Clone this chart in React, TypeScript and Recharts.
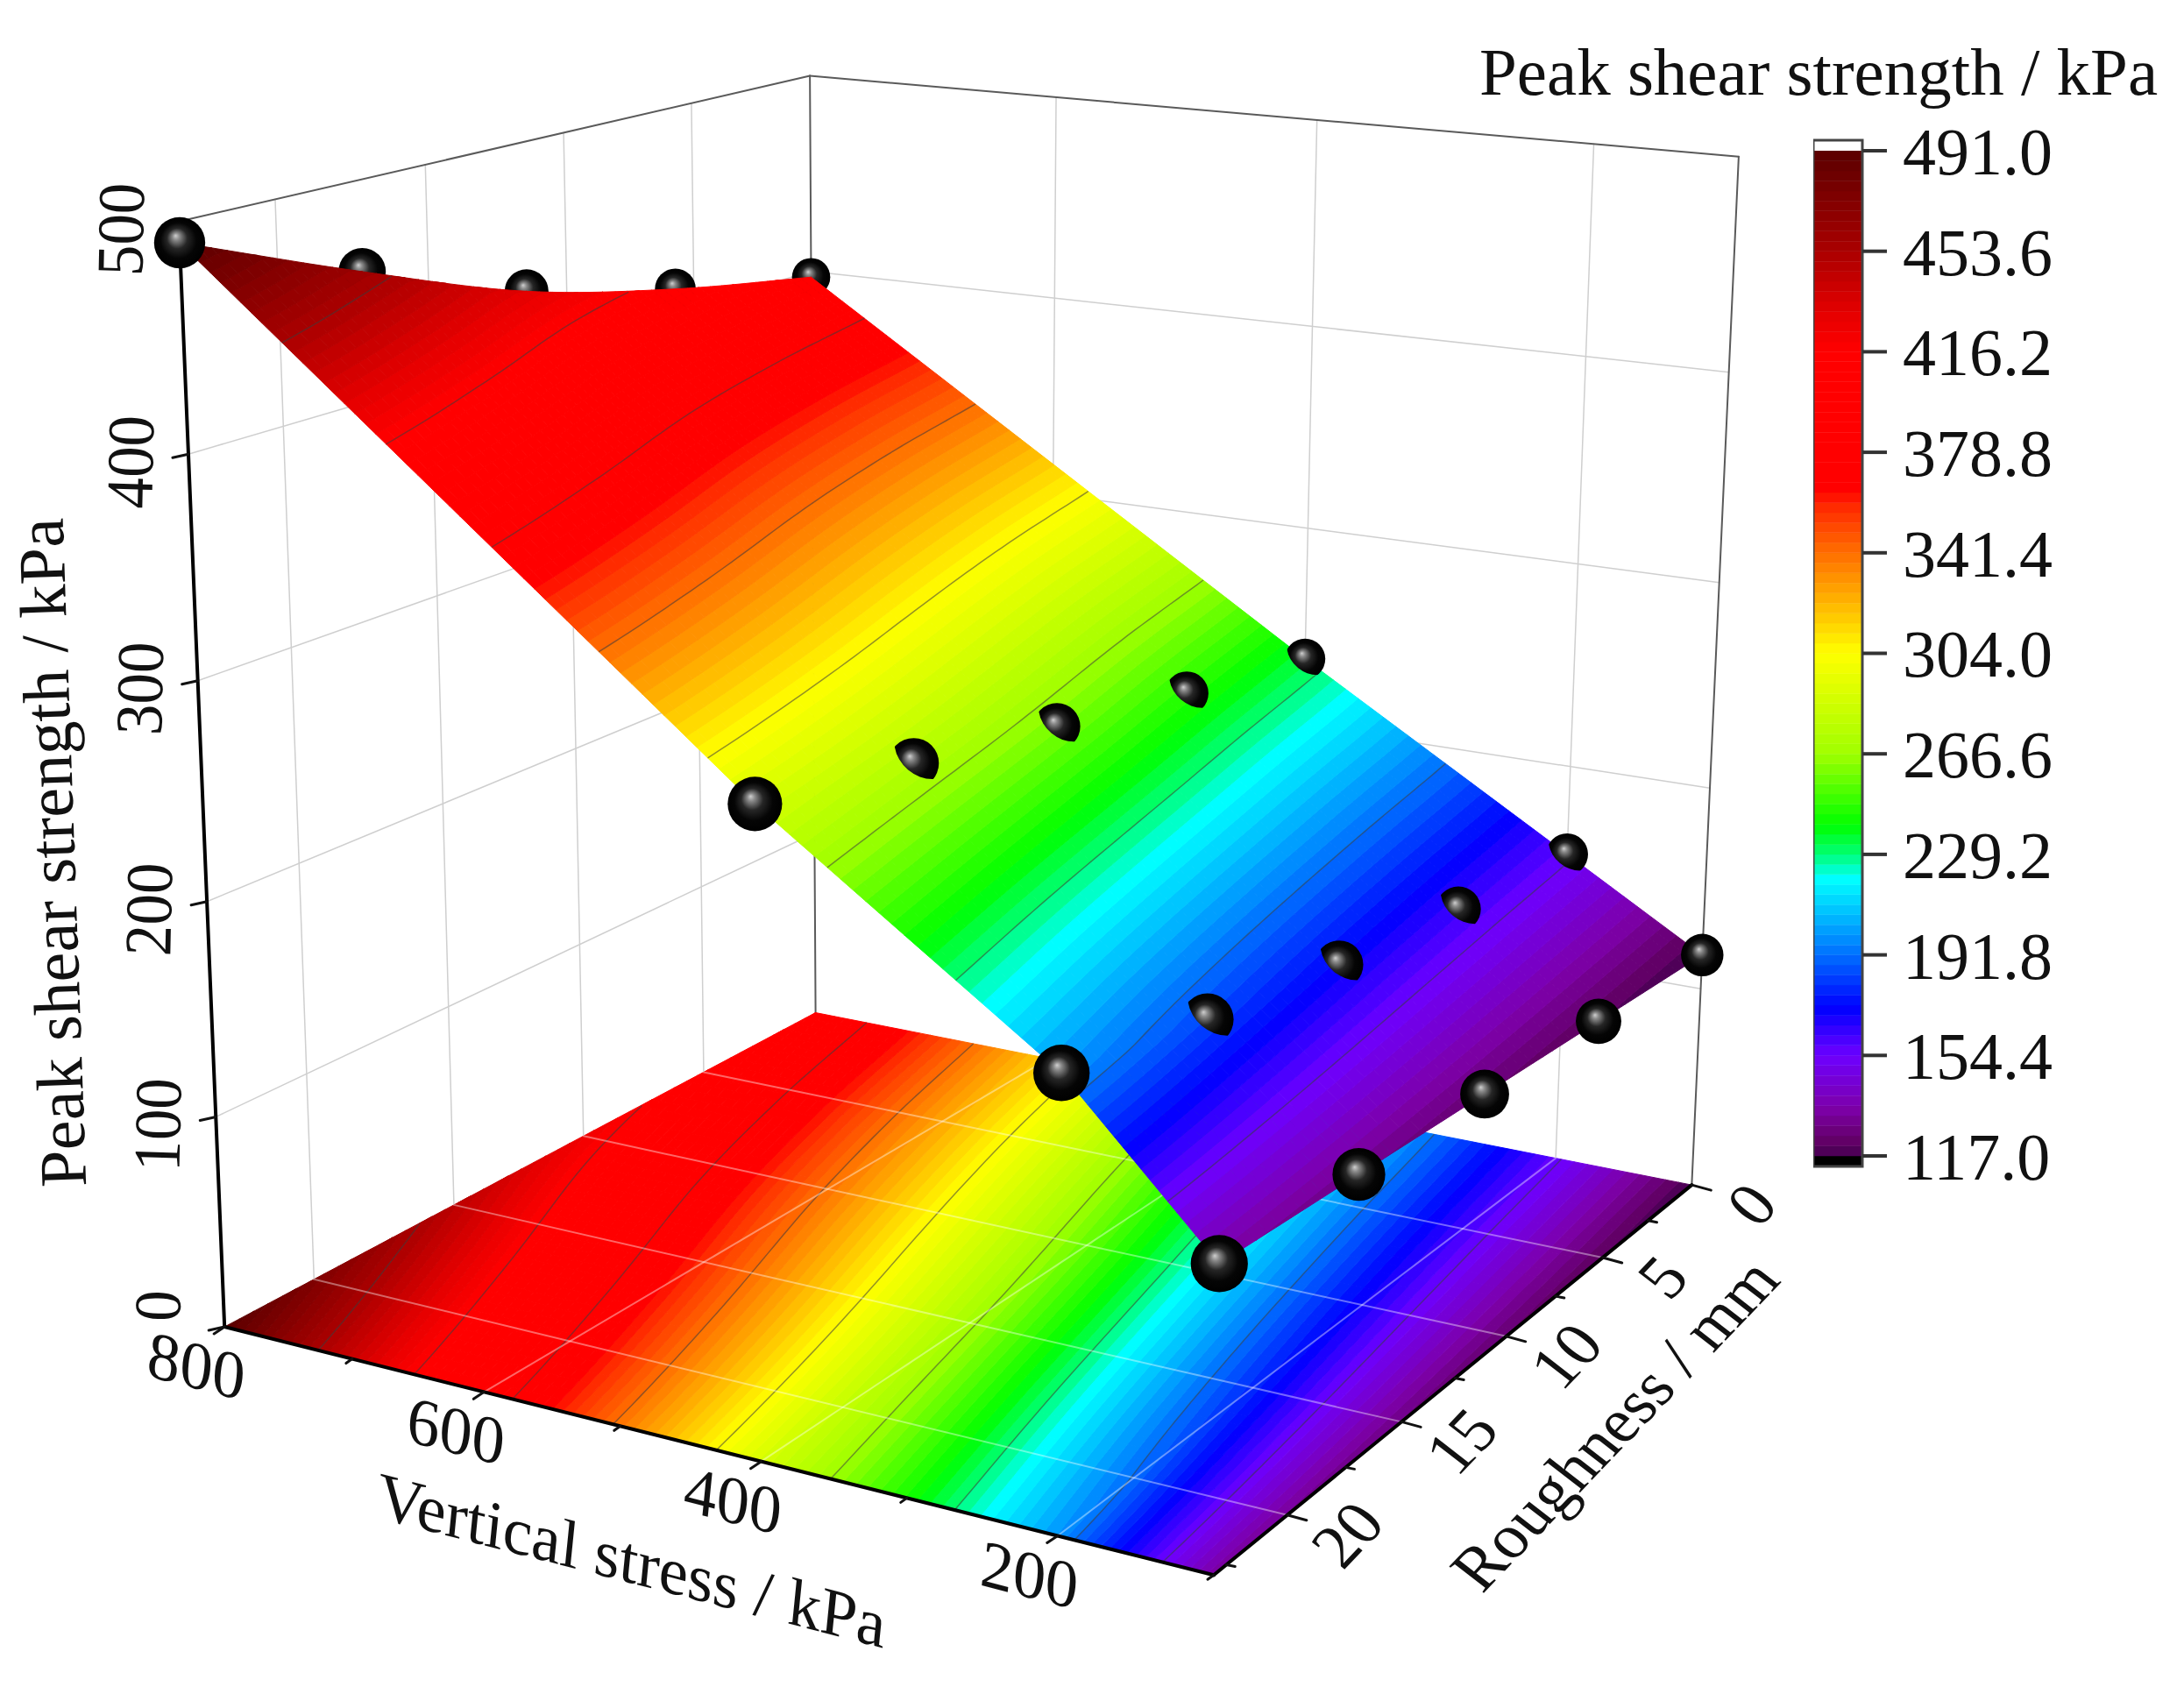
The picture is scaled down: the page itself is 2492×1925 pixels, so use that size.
import React from 'react';
import { ScatterChart, Scatter, XAxis, YAxis, ReferenceArea } from 'recharts';

// measured data: rows follow stressLevels, columns follow roughnessLevels
const stressLevels = [800, 400, 200, 100];
const roughnessLevels = [0, 5.75, 11.5, 17.25, 23];
const strengthAt800 = [397, 411, 430, 459, 491];
const strengthAt400 = [234, 246, 260, 274, 288];
const strengthAt200 = [156, 163, 172, 184, 199];
const strengthAt100 = [117, 121, 125, 129, 133];
const strengthRows = [strengthAt800, strengthAt400, strengthAt200, strengthAt100];

const stressTicks = [800, 600, 400, 200];
const stressMinorTicks = [700, 500, 300, 100];
const roughnessTicks = [0, 5, 10, 15, 20];
const roughnessMinorTicks = [2.5, 7.5, 12.5, 17.5, 22.5];
const strengthTicks = [0, 100, 200, 300, 400, 500];
const colorbarTicks = [491, 453.6, 416.2, 378.8, 341.4, 304, 266.6, 229.2, 191.8, 154.4, 117];
const contourLevels = colorbarTicks.slice(1, -1);

const STRESS_MAX = 800;
const STRESS_MIN = 100;
const ROUGH_MAX = 23;
const STRENGTH_MAX = 500;
const COLOR_MIN = 117;
const COLOR_MAX = 491;

const FONT = '"Liberation Serif", serif';
const INK = '#111';

// colour ramp of the legend: value, r, g, b
const colorStops = [
  [117, 70, 0, 80], [123, 100, 0, 105], [135, 125, 0, 170], [154.4, 110, 0, 255], [172, 0, 0, 255],
  [191.8, 0, 110, 255], [207, 0, 190, 255], [220, 0, 255, 255], [229.2, 0, 255, 120], [240, 0, 255, 0],
  [266.6, 160, 255, 0], [304, 255, 255, 0], [323, 255, 180, 0], [341.4, 255, 110, 0], [359, 255, 40, 0],
  [365, 255, 0, 0], [416.2, 255, 0, 0], [430, 230, 0, 0], [453.6, 170, 0, 0], [491, 90, 0, 0],
];

const BAND = (COLOR_MAX - COLOR_MIN) / 100;
const colorBands = Array.from({ length: 100 }, (_, i) => COLOR_MIN + i * BAND);

function colorOf(q: number) {
  let i = 0;
  while (i < colorStops.length - 2 && colorStops[i + 1][0] < q) i++;
  const a = colorStops[i];
  const b = colorStops[i + 1];
  const t = (q - a[0]) / (b[0] - a[0]);
  return `rgb(${[1, 2, 3].map((k) => Math.round(a[k] + (b[k] - a[k]) * t)).join(',')})`;
}

// camera: cube corners (stress 0..1, roughness 0..1, strength 0..1) seen in the picture
const cameraPoints = [
  [0, 1, 0, 257, 1515], [1, 1, 0, 1384, 1797], [1, 0, 0, 1931, 1352], [0, 0, 0, 930, 1155],
  [0, 1, 1, 204, 252], [0, 0, 1, 924, 87], [1, 0, 1, 1984, 179],
];

function solve(A: number[][], b: number[]) {
  const n = b.length;
  const M = A.map((r, i) => [...r, b[i]]);
  for (let i = 0; i < n; i++) {
    let p = i;
    for (let k = i + 1; k < n; k++) if (Math.abs(M[k][i]) > Math.abs(M[p][i])) p = k;
    [M[i], M[p]] = [M[p], M[i]];
    for (let k = 0; k < n; k++) {
      if (k === i) continue;
      const f = M[k][i] / M[i][i];
      for (let j = i; j <= n; j++) M[k][j] -= f * M[i][j];
    }
  }
  return M.map((r, i) => r[n] / r[i]);
}

function fitCamera() {
  const rows: number[][] = [];
  const rhs: number[] = [];
  cameraPoints.forEach(([u, v, w, x, y]) => {
    rows.push([u, v, w, 1, 0, 0, 0, 0, -x * u, -x * v, -x * w]);
    rhs.push(x);
    rows.push([0, 0, 0, 0, u, v, w, 1, -y * u, -y * v, -y * w]);
    rhs.push(y);
  });
  const N = rows[0].map((_, i) => rows[0].map((__, j) => rows.reduce((s, r) => s + r[i] * r[j], 0)));
  const B = rows[0].map((_, i) => rows.reduce((s, r, k) => s + r[i] * rhs[k], 0));
  return solve(N, B);
}
const P = fitCamera();

// stress kPa, roughness mm, strength kPa -> plane of the chart
function project(stress: number, rough: number, z: number) {
  const u = (STRESS_MAX - stress) / (STRESS_MAX - STRESS_MIN);
  const v = rough / ROUGH_MAX;
  const w = z / STRENGTH_MAX;
  const d = P[8] * u + P[9] * v + P[10] * w + 1;
  return {
    x: (P[0] * u + P[1] * v + P[2] * w + P[3]) / d,
    y: (P[4] * u + P[5] * v + P[6] * w + P[7]) / d,
    d,
  };
}

// smooth through one row of measured values along the roughness axis
function rowValue(row: number[], rough: number) {
  let j = 0;
  while (j < roughnessLevels.length - 2 && rough > roughnessLevels[j + 1]) j++;
  const t = (rough - roughnessLevels[j]) / (roughnessLevels[j + 1] - roughnessLevels[j]);
  const p1 = row[j];
  const p2 = row[j + 1];
  const p0 = j > 0 ? row[j - 1] : 2 * p1 - p2;
  const p3 = j + 2 < row.length ? row[j + 2] : 2 * p2 - p1;
  return 0.5 * (2 * p1 + (p2 - p0) * t + (2 * p0 - 5 * p1 + 4 * p2 - p3) * t * t + (3 * p1 - p0 - 3 * p2 + p3) * t * t * t);
}

function strengthAt(stress: number, rough: number) {
  const vals = strengthRows.map((row) => rowValue(row, rough));
  let i = 0;
  while (i < stressLevels.length - 2 && stress < stressLevels[i + 1]) i++;
  const s = (stressLevels[i] - stress) / (stressLevels[i] - stressLevels[i + 1]);
  return vals[i] * (1 - s) + vals[i + 1] * s;
}

// stress at which the surface reaches a level for a given roughness, null outside the surface
function stressFor(level: number, rough: number) {
  const vals = strengthRows.map((row) => rowValue(row, rough));
  if (level > vals[0] || level < vals[vals.length - 1]) return null;
  for (let i = 0; i < vals.length - 1; i++) {
    if (level <= vals[i] && level >= vals[i + 1]) {
      return stressLevels[i] + ((stressLevels[i + 1] - stressLevels[i]) * (vals[i] - level)) / (vals[i] - vals[i + 1]);
    }
  }
  return null;
}

function clampedStress(level: number, rough: number) {
  const s = stressFor(level, rough);
  if (s !== null) return s;
  return level > rowValue(strengthAt800, rough) ? STRESS_MAX : STRESS_MIN;
}

function refine(levels: number[], parts: number) {
  const out = [levels[0]];
  for (let i = 0; i < levels.length - 1; i++) {
    for (let k = 1; k <= parts; k++) out.push(levels[i] + ((levels[i + 1] - levels[i]) * k) / parts);
  }
  return out;
}
const roughMesh = refine(roughnessLevels, 12);

// colour bands of the surface and of its projection on the floor
function buildMesh(onFloor: boolean) {
  const points: { x: number; y: number }[] = [];
  const colors: string[] = [];
  colorBands.forEach((lo) => {
    const hi = lo + BAND;
    for (let j = 0; j < roughMesh.length - 1; j++) {
      const quad = [
        [clampedStress(lo, roughMesh[j]), roughMesh[j]],
        [clampedStress(hi, roughMesh[j]), roughMesh[j]],
        [clampedStress(hi, roughMesh[j + 1]), roughMesh[j + 1]],
        [clampedStress(lo, roughMesh[j + 1]), roughMesh[j + 1]],
      ];
      if (quad[0][0] === quad[1][0] && quad[2][0] === quad[3][0]) continue;
      quad.forEach(([s, r]) => {
        const p = project(s, r, onFloor ? 0 : strengthAt(s, r));
        points.push({ x: p.x, y: p.y });
      });
      colors.push(colorOf(lo + BAND / 2));
    }
  });
  return { points, colors };
}
const surfaceMesh = buildMesh(false);
const floorMesh = buildMesh(true);

function contourLine(level: number, onFloor: boolean) {
  const out: { x: number; y: number }[] = [];
  roughMesh.forEach((r) => {
    const s = stressFor(level, r);
    if (s === null) return;
    const p = project(s, r, onFloor ? 0 : level);
    out.push({ x: p.x, y: p.y });
  });
  return out;
}

const polygons = (colors: string[]) => (props: any) => {
  const pts = props.points;
  return (
    <g>
      {colors.map((c, i) => (
        <polygon
          key={i}
          points={[0, 1, 2, 3].map((k) => `${pts[i * 4 + k].x},${pts[i * 4 + k].y}`).join(' ')}
          fill={c}
          stroke={c}
          strokeWidth={1}
        />
      ))}
    </g>
  );
};

const segments = (stroke: string, width: number) => (props: any) => {
  const pts = props.points;
  const out = [];
  for (let i = 0; i + 1 < pts.length; i += 2) {
    out.push(<line key={i} x1={pts[i].x} y1={pts[i].y} x2={pts[i + 1].x} y2={pts[i + 1].y} stroke={stroke} strokeWidth={width} strokeLinecap="round" />);
  }
  return <g>{out}</g>;
};

const pair = (a: number[], b: number[]) => [project(a[0], a[1], a[2]), project(b[0], b[1], b[2])];

const zGrid = strengthTicks.slice(1, -1);
const wallGrid = [
  ...roughnessTicks.slice(1).flatMap((r) => pair([STRESS_MAX, r, 0], [STRESS_MAX, r, STRENGTH_MAX])),
  ...stressTicks.slice(1).flatMap((s) => pair([s, 0, 0], [s, 0, STRENGTH_MAX])),
  ...zGrid.flatMap((z) => pair([STRESS_MAX, ROUGH_MAX, z], [STRESS_MAX, 0, z])),
  ...zGrid.flatMap((z) => pair([STRESS_MAX, 0, z], [STRESS_MIN, 0, z])),
];
const wallFrame = [
  ...pair([STRESS_MAX, ROUGH_MAX, STRENGTH_MAX], [STRESS_MAX, 0, STRENGTH_MAX]),
  ...pair([STRESS_MAX, 0, STRENGTH_MAX], [STRESS_MIN, 0, STRENGTH_MAX]),
  ...pair([STRESS_MAX, 0, 0], [STRESS_MAX, 0, STRENGTH_MAX]),
  ...pair([STRESS_MIN, 0, 0], [STRESS_MIN, 0, STRENGTH_MAX]),
];
const floorGrid = [
  ...roughnessTicks.slice(1).flatMap((r) => pair([STRESS_MAX, r, 0], [STRESS_MIN, r, 0])),
  ...stressTicks.slice(1).flatMap((s) => pair([s, 0, 0], [s, ROUGH_MAX, 0])),
];
const axisFrame = [
  ...pair([STRESS_MAX, ROUGH_MAX, 0], [STRESS_MAX, ROUGH_MAX, STRENGTH_MAX]),
  ...pair([STRESS_MAX, ROUGH_MAX, 0], [STRESS_MIN, ROUGH_MAX, 0]),
  ...pair([STRESS_MIN, ROUGH_MAX, 0], [STRESS_MIN, 0, 0]),
];

const tickSegment = (p: { x: number; y: number }, dx: number, dy: number) => [
  { x: p.x, y: p.y },
  { x: p.x + dx, y: p.y + dy },
];
const axisTicks = [
  ...stressTicks.flatMap((s) => tickSegment(project(s, ROUGH_MAX, 0), -12, 8)),
  ...stressMinorTicks.flatMap((s) => tickSegment(project(s, ROUGH_MAX, 0), -7, 5)),
  ...roughnessTicks.flatMap((r) => tickSegment(project(STRESS_MIN, r, 0), 22, 6)),
  ...roughnessMinorTicks.flatMap((r) => tickSegment(project(STRESS_MIN, r, 0), 10, 2)),
  ...strengthTicks.flatMap((z) => tickSegment(project(STRESS_MAX, ROUGH_MAX, z), -18, 4)),
];

const nodes = strengthRows.flatMap((row, i) =>
  row.map((z, j) => {
    const p = project(stressLevels[i], roughnessLevels[j], z);
    return { x: p.x, y: p.y, d: p.d, row: i, col: j };
  }),
);
const lastCol = roughnessLevels.length - 1;
const hiddenNodes = nodes.filter((n) => n.row === 0 && n.col < lastCol);
const frontNodes = nodes.filter((n) => !(n.row === 0 && n.col < lastCol));

function Sphere(props: any) {
  const { cx, cy, payload } = props;
  const r = 24 * Math.pow(0.9 / payload.d, 1.5);
  const id = `ball-${payload.row}-${payload.col}`;
  const cut = (payload.row === 1 || payload.row === 2) && payload.col < lastCol;
  const off = payload.col === 0 ? 13 : 10;
  return (
    <g>
      <defs>
        <radialGradient id={id} cx="0.5" cy="0.5" r="0.5" fx="0.42" fy="0.36">
          <stop offset="0" stopColor="#cfcfcf" />
          <stop offset="0.14" stopColor="#8a8a8a" />
          <stop offset="0.4" stopColor="#262626" />
          <stop offset="0.7" stopColor="#050505" />
          <stop offset="1" stopColor="#000" />
        </radialGradient>
        {cut && (
          <clipPath id={`${id}-cut`}>
            <ellipse cx={0} cy={off - 1.2 * r} rx={1.4 * r} ry={1.2 * r} transform={`translate(${cx} ${cy}) rotate(40)`} />
          </clipPath>
        )}
      </defs>
      <circle cx={cx} cy={cy} r={r} fill={`url(#${id})`} clipPath={cut ? `url(#${id}-cut)` : undefined} />
    </g>
  );
}

const none = () => <g />;

type Mark = { x: number; y: number; text: string };

const textShape = (m: number[], dx = 0, dy = 0, size = 76) => (props: any) => (
  <text
    transform={`matrix(${m[0]} ${m[1]} ${m[2]} ${m[3]} ${props.cx + dx} ${props.cy + dy})`}
    textAnchor="middle"
    dominantBaseline="central"
    fontFamily={FONT}
    fontSize={size}
    fill={INK}
  >
    {props.payload.text}
  </text>
);

const stressLabels: Mark[] = stressTicks.map((s) => ({ ...project(s, ROUGH_MAX, 0), text: String(s) }));
const roughLabels: Mark[] = roughnessTicks.map((r) => ({ ...project(STRESS_MIN, r, 0), text: String(r) }));
const zLabels: Mark[] = strengthTicks.slice(1).map((z) => ({ ...project(STRESS_MAX, ROUGH_MAX, z), text: String(z) }));
const zeroLabel: Mark[] = [{ ...project(STRESS_MAX, ROUGH_MAX, 0), text: '0' }];

const STRESS_M = [0.97, 0.25, -0.1, 1];
const ROUGH_M = [0.67, -0.7, 0.79, 0.61];
const Z_M = [0.02, -0.93, 1, 0.03];
const YTITLE_M = [-0.035, -0.999, 0.999, -0.035];

const legendPoints = colorbarTicks.map((t) => ({ x: 0.5, y: t }));
const LEGEND_PX = 1147 / (COLOR_MAX - COLOR_MIN);

function Legend() {
  const lo = COLOR_MIN - 12 / LEGEND_PX;
  const hi = COLOR_MAX + 12 / LEGEND_PX;
  return (
    <div style={{ position: 'absolute', left: 2069, top: 120 }}>
      <ScatterChart width={423} height={1251} margin={{ top: 40, right: 0, bottom: 40, left: 0 }}>
        <XAxis type="number" dataKey="x" domain={[0, 1]} hide />
        <YAxis
          type="number"
          dataKey="y"
          orientation="right"
          width={367}
          domain={[lo, hi]}
          ticks={colorbarTicks}
          interval={0}
          allowDataOverflow
          axisLine={false}
          tickSize={28}
          tickMargin={18}
          tickLine={{ stroke: '#333', strokeWidth: 4 }}
          tick={{ fontFamily: FONT, fontSize: 76, fill: INK }}
          tickFormatter={(v: number) => v.toFixed(1)}
        />
        <ReferenceArea x1={0} x2={1} y1={lo} y2={COLOR_MIN} fill="#000" fillOpacity={1} stroke="none" />
        {colorBands.map((b) => (
          <ReferenceArea key={b} x1={0} x2={1} y1={b} y2={b + BAND} fill={colorOf(b + BAND / 2)} fillOpacity={1} stroke={colorOf(b + BAND / 2)} strokeWidth={0.5} />
        ))}
        <ReferenceArea x1={0} x2={1} y1={COLOR_MAX} y2={hi} fill="#fff" fillOpacity={1} stroke="none" />
        <ReferenceArea x1={0} x2={1} y1={lo} y2={hi} fill="none" stroke="#444" strokeWidth={3} />
        <Scatter data={legendPoints} shape={none} isAnimationActive={false} />
      </ScatterChart>
    </div>
  );
}

export default function App() {
  return (
    <div style={{ position: 'absolute', left: 0, top: 0, width: 2492, height: 1925, background: '#fff' }}>
      <ScatterChart width={2492} height={1925} margin={{ top: 0, right: 0, bottom: 0, left: 0 }}>
        <XAxis type="number" dataKey="x" domain={[0, 2492]} allowDataOverflow hide />
        <YAxis type="number" dataKey="y" domain={[0, 1925]} reversed allowDataOverflow hide />

        <Scatter data={wallGrid} shape={none} line={segments('#cfcfcf', 1.5)} isAnimationActive={false} />
        <Scatter data={wallFrame} shape={none} line={segments('#5a5a5a', 2)} isAnimationActive={false} />

        <Scatter data={floorMesh.points} shape={none} line={polygons(floorMesh.colors)} isAnimationActive={false} />
        {contourLevels.map((l) => (
          <Scatter key={`floor-${l}`} data={contourLine(l, true)} shape={none} line={{ stroke: '#3c3c3c', strokeWidth: 1.5, strokeOpacity: 0.55 }} isAnimationActive={false} />
        ))}
        <Scatter data={floorGrid} shape={none} line={segments('rgba(255,255,255,0.4)', 2)} isAnimationActive={false} />
        <Scatter data={axisFrame} shape={none} line={segments('#000', 4)} isAnimationActive={false} />
        <Scatter data={axisTicks} shape={none} line={segments('#111', 3)} isAnimationActive={false} />

        <Scatter data={hiddenNodes} shape={Sphere} isAnimationActive={false} />

        <Scatter data={surfaceMesh.points} shape={none} line={polygons(surfaceMesh.colors)} isAnimationActive={false} />
        {contourLevels.map((l) => (
          <Scatter key={`top-${l}`} data={contourLine(l, false)} shape={none} line={{ stroke: '#3c3c3c', strokeWidth: 1.5, strokeOpacity: 0.55 }} isAnimationActive={false} />
        ))}

        <Scatter data={frontNodes} shape={Sphere} isAnimationActive={false} />

        <Scatter data={stressLabels} shape={textShape(STRESS_M, -32, 44)} isAnimationActive={false} />
        <Scatter data={roughLabels} shape={textShape(ROUGH_M, 68, 22)} isAnimationActive={false} />
        <Scatter data={zLabels} shape={textShape(Z_M, -66, 9)} isAnimationActive={false} />
        <Scatter data={zeroLabel} shape={textShape(Z_M, -76, -24)} isAnimationActive={false} />

        <Scatter data={[{ x: 721, y: 1780, text: 'Vertical stress / kPa' }]} shape={textShape(STRESS_M)} isAnimationActive={false} />
        <Scatter data={[{ x: 1842, y: 1625, text: 'Roughness / mm' }]} shape={textShape(ROUGH_M)} isAnimationActive={false} />
        <Scatter data={[{ x: 59, y: 973, text: 'Peak shear strength / kPa' }]} shape={textShape(YTITLE_M)} isAnimationActive={false} />
        <Scatter data={[{ x: 2075, y: 82, text: 'Peak shear strength / kPa' }]} shape={textShape([1, 0, 0, 1], 0, 0, 77)} isAnimationActive={false} />
      </ScatterChart>
      <Legend />
    </div>
  );
}
